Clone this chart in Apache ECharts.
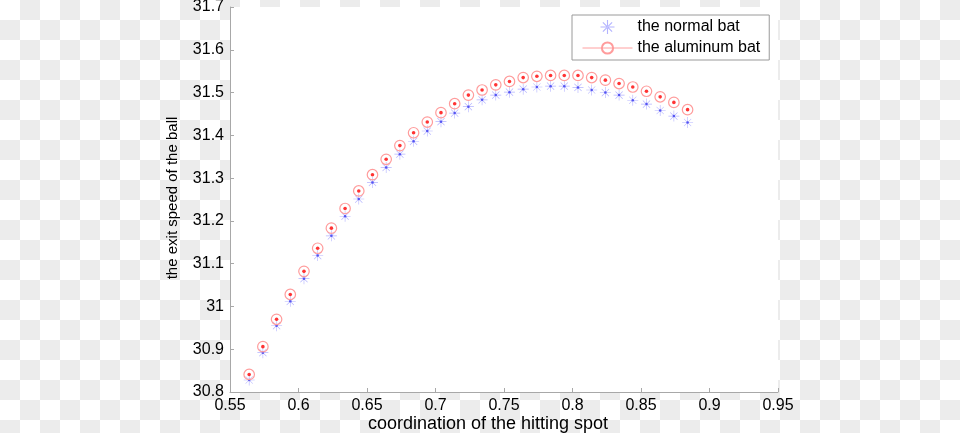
<!DOCTYPE html>
<html>
<head>
<meta charset="utf-8">
<script src="https://cdn.jsdelivr.net/npm/echarts@6/dist/echarts.min.js"></script>
<style>
  html, body { margin: 0; padding: 0; }
  body {
    width: 960px; height: 433px; overflow: hidden;
    background: repeating-conic-gradient(#ececec 0 25%, #ffffff 0 50%) 0 0 / 40px 40px;
  }
  #chart { width: 960px; height: 433px; }
</style>
</head>
<body>
<div id="chart"></div>
<script>
// ---- data ----
const xValues = [0.564, 0.574, 0.584, 0.594, 0.604, 0.614, 0.624, 0.634, 0.644, 0.654, 0.664,
  0.674, 0.684, 0.694, 0.704, 0.714, 0.724, 0.734, 0.744, 0.754, 0.764, 0.774,
  0.784, 0.794, 0.804, 0.814, 0.824, 0.834, 0.844, 0.854, 0.864, 0.874, 0.884];
const normalBat = [30.828, 30.892, 30.955, 31.012, 31.065, 31.119, 31.165, 31.211, 31.251, 31.290, 31.325,
  31.356, 31.386, 31.410, 31.432, 31.452, 31.467, 31.483, 31.494, 31.501, 31.508, 31.513,
  31.515, 31.515, 31.512, 31.506, 31.500, 31.494, 31.482, 31.473, 31.458, 31.445, 31.430];
const aluminumBat = [30.841, 30.906, 30.970, 31.028, 31.082, 31.136, 31.183, 31.229, 31.270, 31.308, 31.344,
  31.376, 31.406, 31.431, 31.453, 31.474, 31.494, 31.506, 31.518, 31.526, 31.535, 31.538,
  31.540, 31.540, 31.540, 31.535, 31.529, 31.521, 31.513, 31.503, 31.490, 31.477, 31.460];
const seriesNames = ['the normal bat', 'the aluminum bat'];
const xAxisName = 'coordination of the hitting spot';
const yAxisName = 'the exit speed of the ball';

const zip = (xs, ys) => xs.map((x, i) => [x, ys[i]]);
const asterisk = 'path://M9.45,0H10.55V20H9.45Z M0,9.45H20V10.55H0Z M3,3.8L3.8,3L17,16.2L16.2,17Z M17,3.8L16.2,3L3,16.2L3.8,17Z';
const font = 'Liberation Sans, Arial, sans-serif';

const chart = echarts.init(document.getElementById('chart'), null, { renderer: 'canvas' });
chart.setOption({
  backgroundColor: 'transparent',
  animation: false,
  grid: {
    left: 230, top: 7, right: 182, bottom: 41, containLabel: false, outerBoundsMode: 'none',
    show: true, backgroundColor: '#ffffff', borderWidth: 0
  },
  xAxis: {
    type: 'value', min: 0.55, max: 0.95, interval: 0.05,
    name: xAxisName, nameLocation: 'middle', nameGap: 23, nameMoveOverlap: false,
    nameTextStyle: { color: '#000', fontSize: 18, fontFamily: font, padding: [0, 32, 0, 0] },
    axisLine: { show: true, onZero: false, lineStyle: { color: '#a8a8a8', width: 1 } },
    axisTick: { show: true, inside: true, length: 4, lineStyle: { color: '#a8a8a8' } },
    axisLabel: { color: '#000', fontSize: 16, fontFamily: font, margin: 6 },
    splitLine: { show: false }
  },
  yAxis: {
    type: 'value', min: 30.8, max: 31.7, interval: 0.1,
    name: yAxisName, nameLocation: 'middle', nameGap: 50, nameRotate: 90, nameMoveOverlap: false,
    nameTextStyle: { color: '#000', fontSize: 15, fontFamily: font, padding: [0, 0, 0, 3] },
    axisLine: { show: true, onZero: false, lineStyle: { color: '#a8a8a8', width: 1 } },
    axisTick: { show: true, inside: true, length: 4, lineStyle: { color: '#a8a8a8' } },
    axisLabel: { color: '#000', fontSize: 16, fontFamily: font, margin: 6 },
    splitLine: { show: false }
  },
  legend: {
    orient: 'vertical', left: 572, top: 15,
    padding: [4, 9, 4, 10], itemGap: 5, itemWidth: 50, itemHeight: 14,
    backgroundColor: '#ffffff', borderColor: '#9a9a9a', borderWidth: 1,
    textStyle: { color: '#000', fontSize: 16, fontFamily: font },
    data: [
      { name: seriesNames[0], icon: 'path://M9.45,3H10.55V17H9.45Z M3,9.45H17V10.55H3Z M5,5.8L5.8,5L15,14.2L14.2,15Z M15,5.8L14.2,5L5,14.2L5.8,15Z' },
      { name: seriesNames[1], lineStyle: { color: '#ffa0a0', width: 1, opacity: 1 } }
    ]
  },
  series: [
    {
      name: seriesNames[0], type: 'scatter', symbol: asterisk, symbolSize: 11,
      itemStyle: { color: '#a0a0ff' }, data: zip(xValues, normalBat), z: 2
    },
    {
      name: 'normal-center', type: 'scatter', symbol: 'circle', symbolSize: 2.5,
      itemStyle: { color: '#3a3af0' }, data: zip(xValues, normalBat), z: 3, silent: true
    },
    {
      name: seriesNames[1], type: 'line', symbol: 'circle', symbolSize: 10.5, showSymbol: true,
      lineStyle: { width: 0, opacity: 0, color: '#ffa0a0' },
      itemStyle: { color: 'rgba(255,255,255,0)', borderColor: '#ff9c9c', borderWidth: 1.2 },
      data: zip(xValues, aluminumBat), z: 4
    },
    {
      name: 'aluminum-center', type: 'scatter', symbol: 'circle', symbolSize: 3.6,
      itemStyle: { color: '#ff0000' }, data: zip(xValues, aluminumBat), z: 5, silent: true
    }
  ]
});
</script>
</body>
</html>
